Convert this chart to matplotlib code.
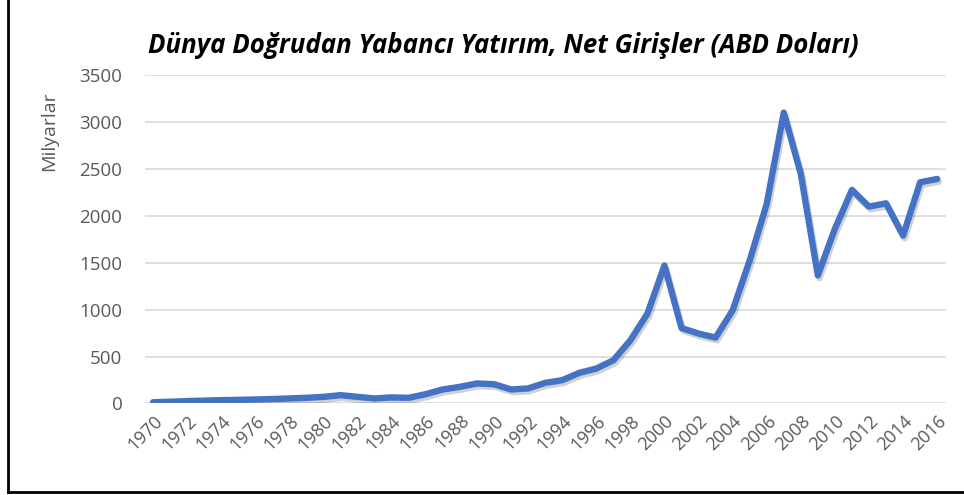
import matplotlib
matplotlib.use("Agg")
from matplotlib import pyplot as plt
from matplotlib import patheffects as pe
from matplotlib.lines import Line2D

years = list(range(1970, 2017))
# milyar ABD doları
values = [13, 18, 25, 30, 35, 38, 42, 47, 53, 60,
          70, 88, 70, 53, 64, 60, 99, 149, 177, 213,
          205, 149, 160, 219, 248, 326, 372, 460, 673, 957,
          1471, 804, 745, 702, 993, 1524, 2128, 3102, 2447, 1365,
          1862, 2277, 2099, 2134, 1790, 2358, 2394]
tick_years = list(range(1970, 2017, 2))
y_ticks = [0, 500, 1000, 1500, 2000, 2500, 3000, 3500]

title = "Dünya Doğrudan Yabancı Yatırım, Net Girişler (ABD Doları)"
ylabel = "Milyarlar"

plt.rcParams['font.family'] = ['Open Sans', 'DejaVu Sans']

fig = plt.figure(figsize=(9.64, 4.95), dpi=100)
ax = fig.add_axes([0.150, 0.185, 0.831, 0.663])

ax.plot(years, values, color="#4472C4", linewidth=4.6, solid_capstyle="round",
        solid_joinstyle="round", zorder=3,
        path_effects=[pe.SimpleLineShadow(offset=(1.2, -2.0), shadow_color="black", alpha=0.18),
                      pe.Normal()])

ax.set_xlim(1969.5, 2016.5)
ax.set_ylim(0, 3500)
ax.set_yticks(y_ticks)
ax.set_xticks(tick_years)
ax.set_xticklabels([str(y) for y in tick_years], rotation=45, ha="right",
                   rotation_mode="anchor")
ax.tick_params(axis="both", length=0, labelcolor="#595959", labelsize=13.5)
ax.tick_params(axis="x", pad=6, labelsize=13)
ax.tick_params(axis="y", pad=16)
ax.grid(axis="y", color="#D9D9D9", linewidth=1.2)
ax.set_axisbelow(True)
for s in ax.spines.values():
    s.set_visible(False)

ax.set_ylabel(ylabel, color="#595959", fontsize=14, labelpad=8)
ax.yaxis.set_label_coords(-0.108, 0.83)

fig.text(0.522, 0.909, title, ha="center", va="center", fontsize=18.6,
         fontweight="bold", fontstyle="italic", color="black")

# çerçeve
fig.add_artist(Line2D([0.008, 0.008], [0.006, 1.0], color="black", linewidth=2,
                      transform=fig.transFigure))
fig.add_artist(Line2D([0.008, 1.0], [0.006, 0.006], color="black", linewidth=2,
                      transform=fig.transFigure))

fig.savefig("out.png", dpi=100)
